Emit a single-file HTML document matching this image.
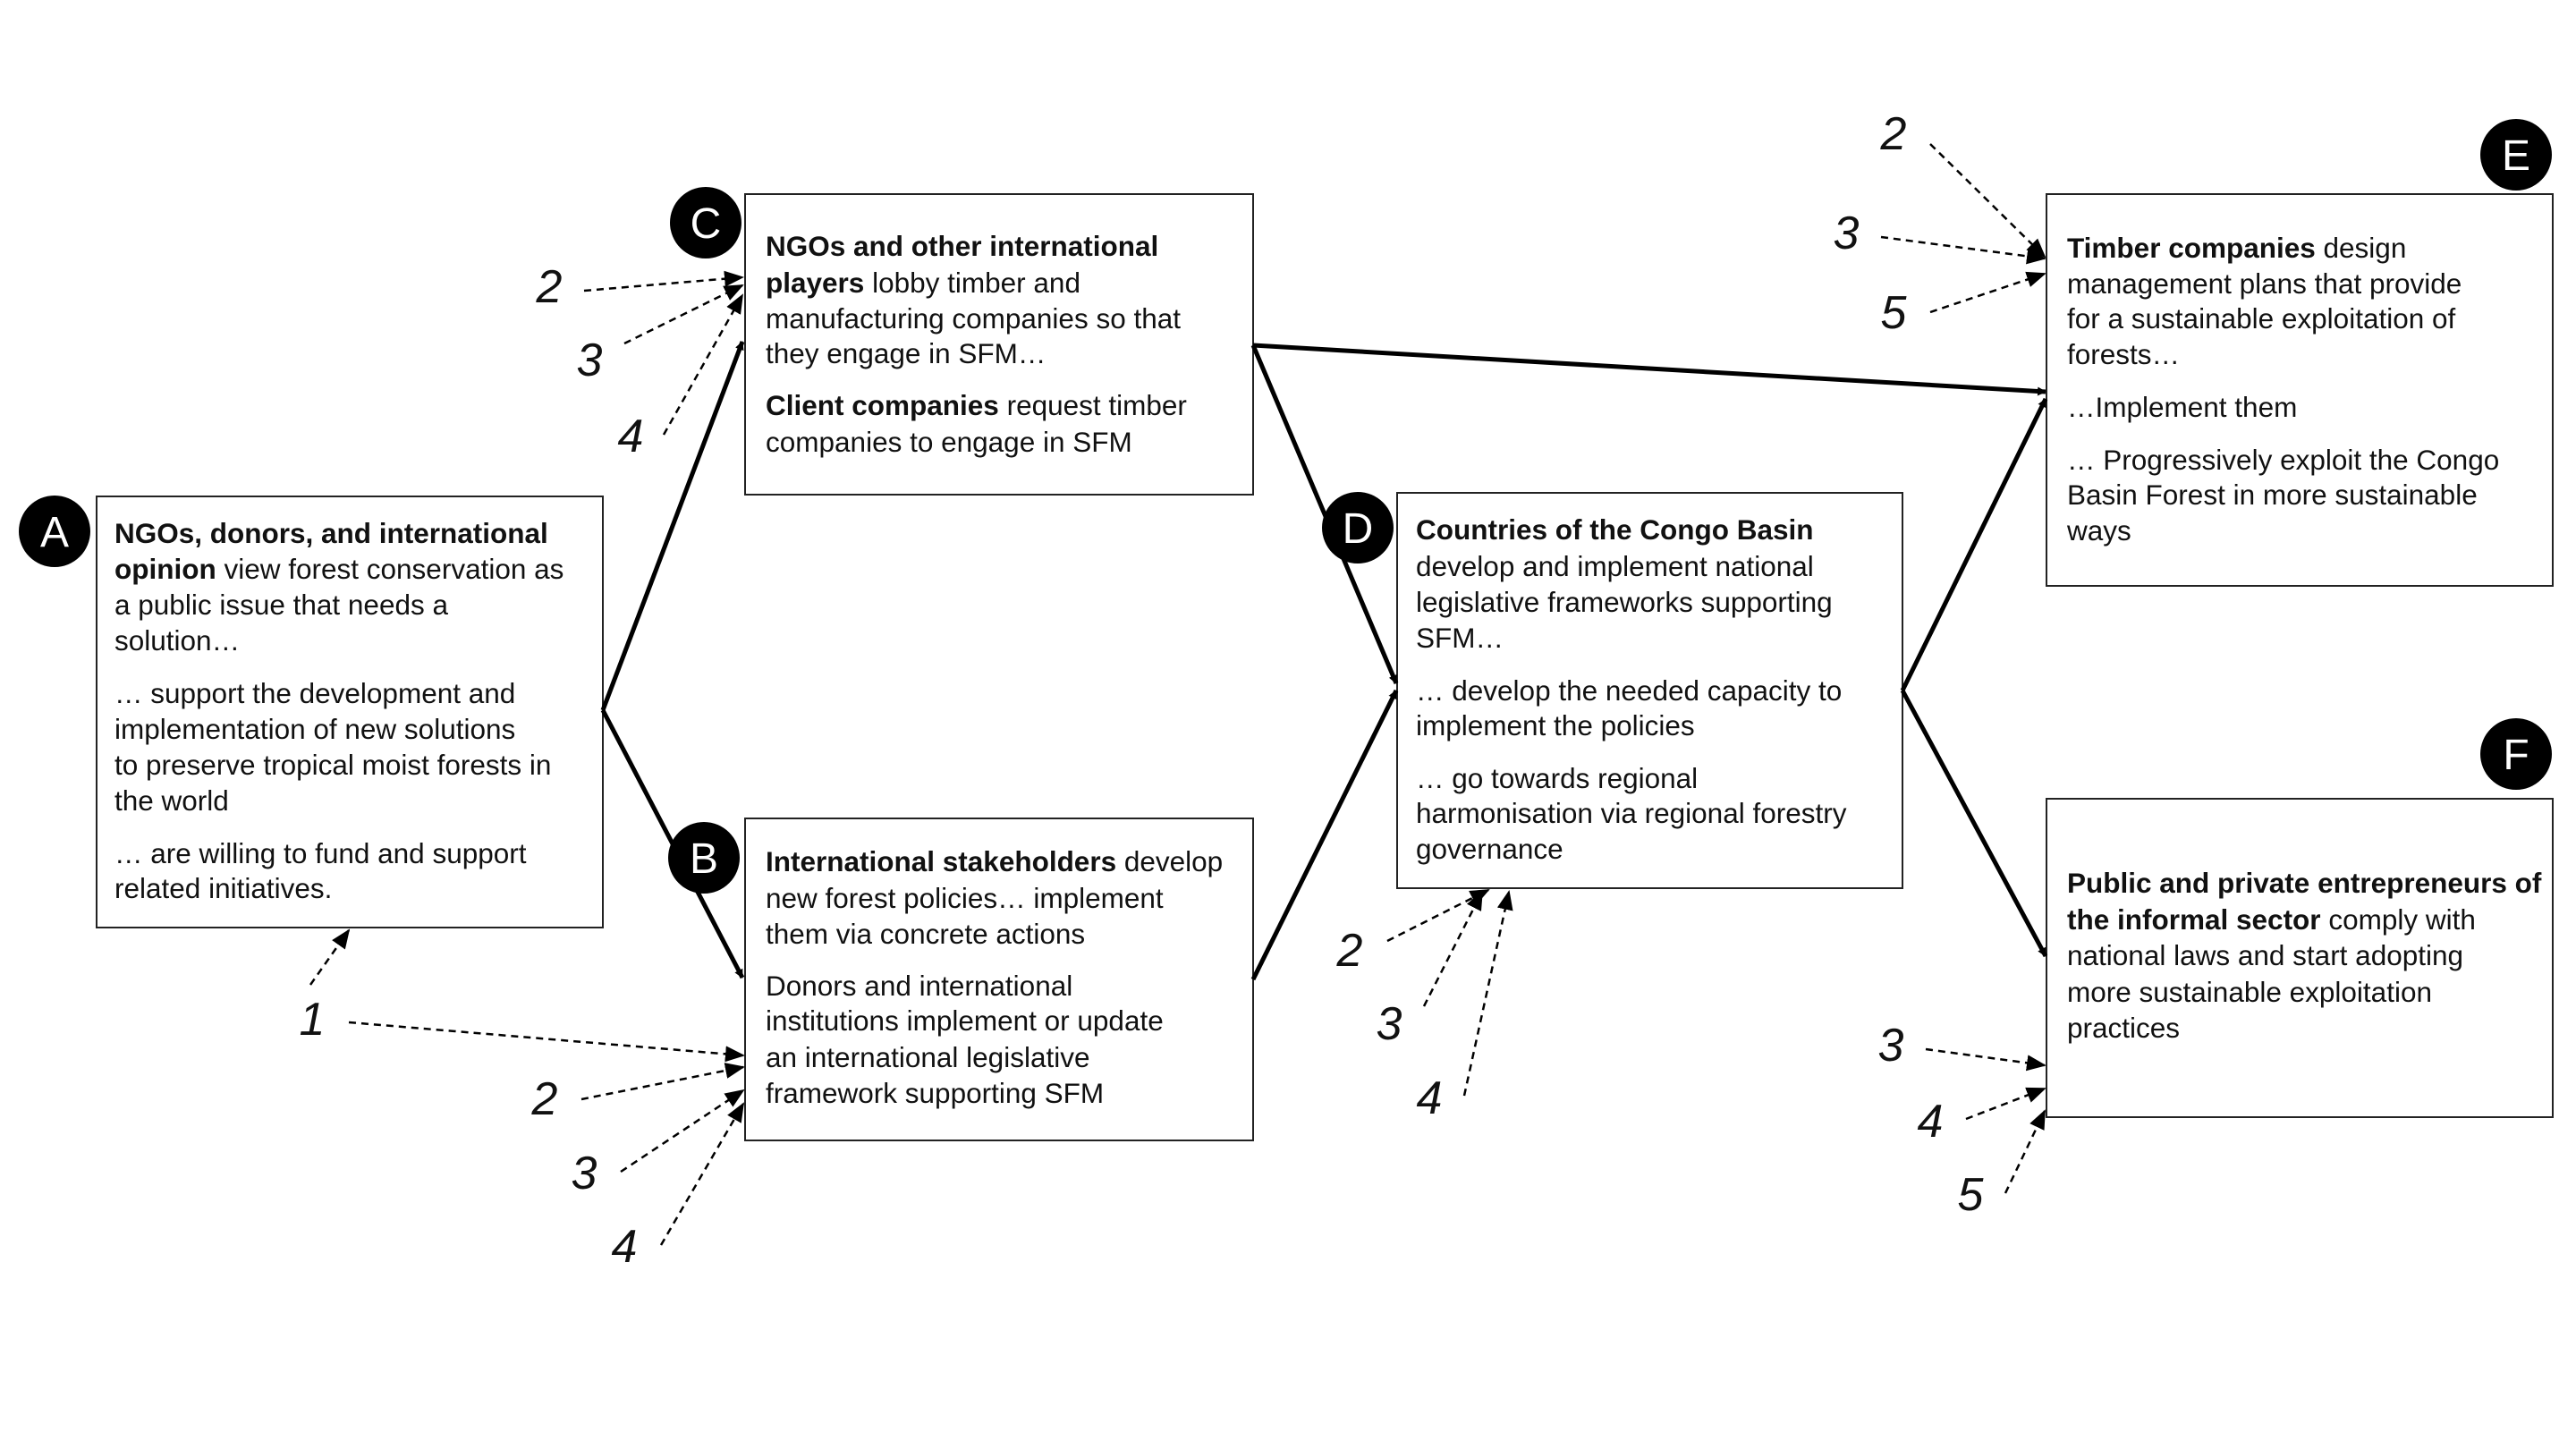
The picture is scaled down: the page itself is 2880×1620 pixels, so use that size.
<!DOCTYPE html>
<html><head><meta charset="utf-8"><style>
html,body{margin:0;padding:0;background:#fff;}
svg{display:block;}
.t{font-family:"Liberation Sans",sans-serif;font-size:31.5px;fill:#111;}
.b{font-weight:bold;}
.n{font-family:"Liberation Sans",sans-serif;font-size:52px;font-style:italic;fill:#111;}
.c{font-family:"Liberation Sans",sans-serif;font-size:48px;fill:#fff;text-anchor:middle;}
.box{fill:#fff;stroke:#222;stroke-width:2;}
.s{stroke:#000;stroke-width:5;fill:none;}
.d{stroke:#000;stroke-width:2.5;fill:none;stroke-dasharray:8 6;}
</style></head><body>
<svg width="2880" height="1620" viewBox="0 0 2880 1620" xmlns="http://www.w3.org/2000/svg">
<defs>
<marker id="ah" markerWidth="10" markerHeight="10" refX="9" refY="5" orient="auto" markerUnits="userSpaceOnUse" viewBox="0 0 10 10"><path d="M0,0 L10,5 L0,10 z" fill="#000"/></marker>
<marker id="as" markerWidth="22" markerHeight="22" refX="20" refY="11" orient="auto" markerUnits="userSpaceOnUse" viewBox="0 0 22 22"><path d="M0,2 L22,11 L0,20 z" fill="#000"/></marker>
</defs>

<rect class="box" x="108" y="555" width="566" height="482"/>
<rect class="box" x="833" y="217" width="568" height="336"/>
<rect class="box" x="833" y="915" width="568" height="360"/>
<rect class="box" x="1562" y="551" width="565" height="442"/>
<rect class="box" x="2288" y="217" width="566" height="438"/>
<rect class="box" x="2288" y="893" width="566" height="356"/>

<line class="s" x1="674" y1="794" x2="830" y2="382" marker-end="url(#ah)"/>
<line class="s" x1="674" y1="794" x2="830" y2="1093" marker-end="url(#ah)"/>
<line class="s" x1="1401" y1="1095" x2="1561" y2="772" marker-end="url(#ah)"/>
<line class="s" x1="1401" y1="386" x2="1561" y2="764" marker-end="url(#ah)"/>
<line class="s" x1="1401" y1="386" x2="2287" y2="438" marker-end="url(#ah)"/>
<line class="s" x1="2127" y1="772" x2="2287" y2="446" marker-end="url(#ah)"/>
<line class="s" x1="2127" y1="772" x2="2287" y2="1069" marker-end="url(#ah)"/>

<g>
<line class="d" x1="653" y1="325" x2="830" y2="310" marker-end="url(#as)"/>
<line class="d" x1="698" y1="384" x2="830" y2="319" marker-end="url(#as)"/>
<line class="d" x1="742" y1="486" x2="830" y2="330" marker-end="url(#as)"/>
<line class="d" x1="347" y1="1101" x2="390" y2="1040" marker-end="url(#as)"/>
<line class="d" x1="390" y1="1143" x2="831" y2="1180" marker-end="url(#as)"/>
<line class="d" x1="650" y1="1229" x2="831" y2="1193" marker-end="url(#as)"/>
<line class="d" x1="694" y1="1310" x2="831" y2="1219" marker-end="url(#as)"/>
<line class="d" x1="739" y1="1392" x2="831" y2="1234" marker-end="url(#as)"/>
<line class="d" x1="1551" y1="1052" x2="1664" y2="995" marker-end="url(#as)"/>
<line class="d" x1="1592" y1="1125" x2="1657" y2="997" marker-end="url(#as)"/>
<line class="d" x1="1637" y1="1225" x2="1687" y2="997" marker-end="url(#as)"/>
<line class="d" x1="2158" y1="161" x2="2286" y2="287" marker-end="url(#as)"/>
<line class="d" x1="2103" y1="265" x2="2286" y2="289" marker-end="url(#as)"/>
<line class="d" x1="2158" y1="349" x2="2286" y2="306" marker-end="url(#as)"/>
<line class="d" x1="2153" y1="1173" x2="2286" y2="1191" marker-end="url(#as)"/>
<line class="d" x1="2198" y1="1251" x2="2286" y2="1217" marker-end="url(#as)"/>
<line class="d" x1="2242" y1="1334" x2="2286" y2="1242" marker-end="url(#as)"/>
</g>

<g class="n" text-anchor="middle">
<text x="614" y="338">2</text>
<text x="659" y="420">3</text>
<text x="705" y="505">4</text>
<text x="349" y="1157">1</text>
<text x="609" y="1246">2</text>
<text x="653" y="1329">3</text>
<text x="698" y="1411">4</text>
<text x="1509" y="1080">2</text>
<text x="1553" y="1162">3</text>
<text x="1598" y="1245">4</text>
<text x="2117" y="167">2</text>
<text x="2064" y="278">3</text>
<text x="2117" y="367">5</text>
<text x="2114" y="1186">3</text>
<text x="2158" y="1271">4</text>
<text x="2203" y="1353">5</text>
</g>

<g>
<circle cx="61" cy="594" r="40" fill="#000"/><text class="c" x="61" y="611">A</text>
<circle cx="789" cy="249" r="40" fill="#000"/><text class="c" x="789" y="266">C</text>
<circle cx="787" cy="959" r="40" fill="#000"/><text class="c" x="787" y="976">B</text>
<circle cx="1518" cy="590" r="40" fill="#000"/><text class="c" x="1518" y="607">D</text>
<circle cx="2813" cy="173" r="40" fill="#000"/><text class="c" x="2813" y="190">E</text>
<circle cx="2813" cy="843" r="40" fill="#000"/><text class="c" x="2813" y="860">F</text>
</g>

<g class="t">
<text x="128" y="607"><tspan class="b">NGOs, donors, and international</tspan></text>
<text x="128" y="647"><tspan class="b">opinion</tspan> view forest conservation as</text>
<text x="128" y="687">a public issue that needs a</text>
<text x="128" y="727">solution…</text>
<text x="128" y="786">… support the development and</text>
<text x="128" y="826">implementation of new solutions</text>
<text x="128" y="866">to preserve tropical moist forests in</text>
<text x="128" y="906">the world</text>
<text x="128" y="965">… are willing to fund and support</text>
<text x="128" y="1004">related initiatives.</text>
</g>
<g class="t">
<text x="856" y="286"><tspan class="b">NGOs and other international</tspan></text>
<text x="856" y="327"><tspan class="b">players</tspan> lobby timber and</text>
<text x="856" y="367">manufacturing companies so that</text>
<text x="856" y="406">they engage in SFM…</text>
<text x="856" y="464"><tspan class="b">Client companies</tspan> request timber</text>
<text x="856" y="505">companies to engage in SFM</text>
</g>
<g class="t">
<text x="856" y="974"><tspan class="b">International stakeholders</tspan> develop</text>
<text x="856" y="1015">new forest policies… implement</text>
<text x="856" y="1055">them via concrete actions</text>
<text x="856" y="1113">Donors and international</text>
<text x="856" y="1152">institutions implement or update</text>
<text x="856" y="1193">an international legislative</text>
<text x="856" y="1233">framework supporting SFM</text>
</g>
<g class="t">
<text x="1583" y="603"><tspan class="b">Countries of the Congo Basin</tspan></text>
<text x="1583" y="644">develop and implement national</text>
<text x="1583" y="684">legislative frameworks supporting</text>
<text x="1583" y="724">SFM…</text>
<text x="1583" y="783">… develop the needed capacity to</text>
<text x="1583" y="822">implement the policies</text>
<text x="1583" y="881">… go towards regional</text>
<text x="1583" y="920">harmonisation via regional forestry</text>
<text x="1583" y="960">governance</text>
</g>
<g class="t">
<text x="2311" y="288"><tspan class="b">Timber companies</tspan> design</text>
<text x="2311" y="328">management plans that provide</text>
<text x="2311" y="367">for a sustainable exploitation of</text>
<text x="2311" y="407">forests…</text>
<text x="2311" y="466">…Implement them</text>
<text x="2311" y="525">… Progressively exploit the Congo</text>
<text x="2311" y="564">Basin Forest in more sustainable</text>
<text x="2311" y="604">ways</text>
</g>
<g class="t">
<text x="2311" y="998"><tspan class="b">Public and private entrepreneurs of</tspan></text>
<text x="2311" y="1039"><tspan class="b">the informal sector</tspan> comply with</text>
<text x="2311" y="1079">national laws and start adopting</text>
<text x="2311" y="1120">more sustainable exploitation</text>
<text x="2311" y="1160">practices</text>
</g>
</svg>
</body></html>
